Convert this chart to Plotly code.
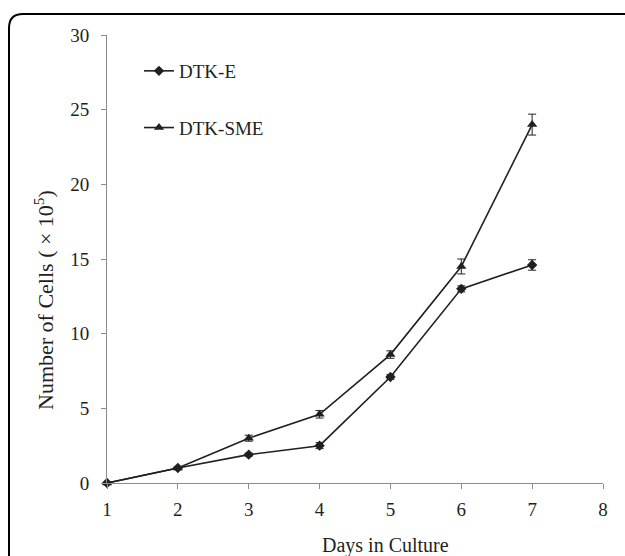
import plotly.graph_objects as go

days = [1, 2, 3, 4, 5, 6, 7]
dtk_e = [0.0, 1.0, 1.9, 2.5, 7.1, 13.0, 14.6]
dtk_e_err = [0.05, 0.1, 0.1, 0.2, 0.15, 0.2, 0.35]
dtk_sme = [0.0, 1.0, 3.0, 4.6, 8.6, 14.5, 24.0]
dtk_sme_err = [0.05, 0.1, 0.2, 0.25, 0.25, 0.5, 0.7]
x_ticks = [1, 2, 3, 4, 5, 6, 7, 8]
y_ticks = [0, 5, 10, 15, 20, 25, 30]

INK = "#231f20"
GRAY = "#8c8c8c"
FONT = "Liberation Serif"
FS = 19

W, H = 625, 556
L, R, T, B = 107, 22, 35, 73
PW, PH = W - L - R, H - T - B

def px(xp):
    return (xp - L) / PW

def py(yp):
    return (H - B - yp) / PH

fig = go.Figure()
fig.add_trace(go.Scatter(
    x=days, y=dtk_e, name="DTK-E", mode="lines+markers",
    line=dict(color=INK, width=1.6),
    marker=dict(symbol="diamond", size=8, color=INK),
    error_y=dict(type="data", array=dtk_e_err, color=INK, thickness=1, width=4),
    cliponaxis=False, legendgroup="a",
))
fig.add_trace(go.Scatter(
    x=days, y=dtk_sme, name="DTK-SME", mode="lines+markers",
    line=dict(color=INK, width=1.6),
    marker=dict(symbol="triangle-up", size=9, color=INK),
    error_y=dict(type="data", array=dtk_sme_err, color=INK, thickness=1, width=4),
    cliponaxis=False, legendgroup="b",
))

# rounded outer frame (clipped at right and bottom)
x0, y0, x1, y1, r = 9, 14, 720, 620, 14
path = (f"M {px(x0)},{py(y1)} L {px(x0)},{py(y0 + r)} "
        f"Q {px(x0)},{py(y0)} {px(x0 + r)},{py(y0)} "
        f"L {px(x1)},{py(y0)}")
fig.add_shape(type="path", path=path, xref="paper", yref="paper",
              line=dict(color="black", width=2))

fig.add_annotation(text="Number of Cells (&nbsp;×&nbsp;10<sup>5</sup>)", textangle=-90,
                   xref="paper", yref="paper", x=px(44), y=py(300),
                   xanchor="center", yanchor="middle",
                   showarrow=False, font=dict(family=FONT, size=22, color=INK))
fig.add_annotation(text="Days in Culture", xref="paper", yref="paper",
                   x=px(385), y=py(545), xanchor="center", yanchor="middle",
                   showarrow=False, font=dict(family=FONT, size=20, color=INK))

fig.update_layout(
    width=W, height=H,
    margin=dict(l=L, r=R, t=T, b=B),
    paper_bgcolor="white", plot_bgcolor="white",
    font=dict(family=FONT, size=FS, color=INK),
    showlegend=True,
    legend=dict(x=px(139), y=py(52), xanchor="left", yanchor="top",
                bgcolor="rgba(0,0,0,0)", tracegroupgap=29,
                traceorder="grouped", itemwidth=30,
                font=dict(family=FONT, size=FS, color=INK)),
    xaxis=dict(range=[1, 8], tickvals=x_ticks, showline=True, linecolor=GRAY,
               linewidth=1, ticks="outside", ticklen=5, tickcolor=GRAY,
               showgrid=False, zeroline=False, ticklabelstandoff=4,
               tickfont=dict(family=FONT, size=FS, color=INK)),
    yaxis=dict(range=[0, 30], tickvals=y_ticks, showline=True, linecolor=GRAY,
               linewidth=1, ticks="outside", ticklen=5, tickcolor=GRAY,
               showgrid=False, zeroline=False, ticklabelstandoff=8,
               tickfont=dict(family=FONT, size=FS, color=INK)),
)

fig.write_html("out.html")
